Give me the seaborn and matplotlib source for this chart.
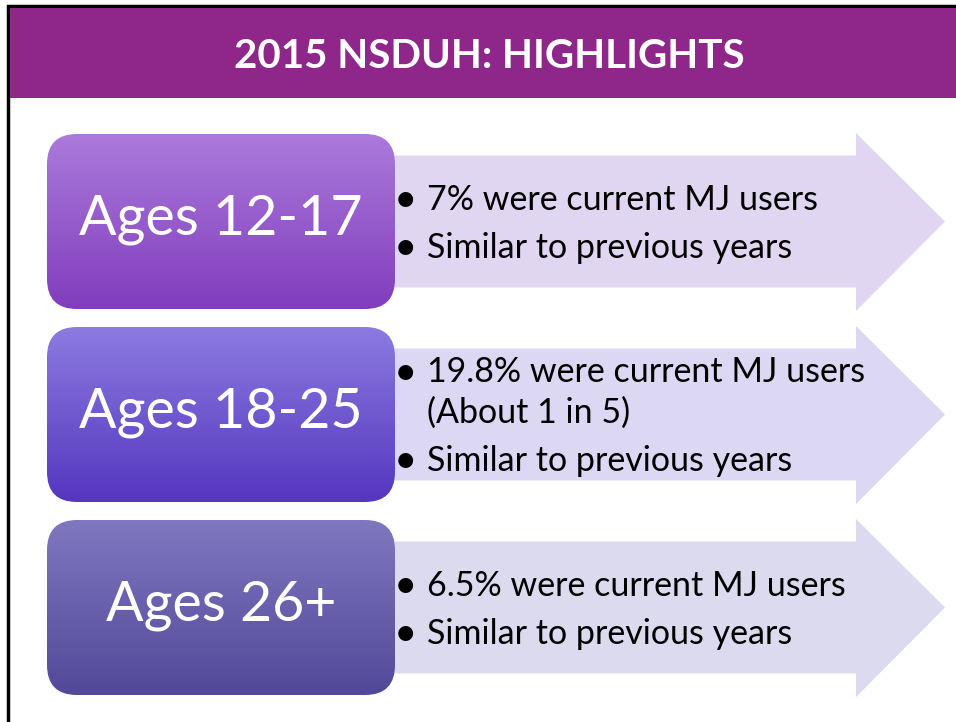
import numpy as np
import matplotlib.pyplot as plt
from matplotlib.patches import FancyBboxPatch, Polygon, Rectangle
from matplotlib.colors import LinearSegmentedColormap
import seaborn as sns

# content
title = "2015 NSDUH: HIGHLIGHTS"
age_groups = ["Ages 12-17", "Ages 18-25", "Ages 26+"]
bullets = [
    [["7% were current MJ users"], ["Similar to previous years"]],
    [["19.8% were current MJ users", "(About 1 in 5)"], ["Similar to previous years"]],
    [["6.5% were current MJ users"], ["Similar to previous years"]],
]
box_top_colors = ["#AB7ADB", "#8D7BE0", "#7F78C0"]
box_bottom_colors = ["#813DBD", "#5436BF", "#524899"]
arrow_colors = ["#E1D6F1", "#DCD8F3", "#DBDAEE"]

sns.set_theme(style="white")
plt.rcParams['font.family'] = ['Lato', 'DejaVu Sans']

fig = plt.figure(figsize=(9.56, 7.22), dpi=100)
ax = fig.add_axes([0, 0, 1, 1])
ax.set_xlim(0, 956)
ax.set_ylim(722, 0)
ax.axis('off')

# frame + title bar
ax.add_patch(Rectangle((8, 6), 960, 800, facecolor='white', edgecolor='black', lw=2.5, zorder=0))
ax.add_patch(Rectangle((10, 8), 960, 90, facecolor='#8F278B', edgecolor='none', zorder=1))
ax.text(489, 57, title, color='white', fontsize=29, fontweight='bold',
        ha='center', va='center', zorder=2)

box_tops = [134, 327, 520]
box_h = 175
line_gap = 41
para_gap = 48
for i, label in enumerate(age_groups):
    top = box_tops[i]
    cy = top + box_h / 2
    # arrow behind the box
    body_t, body_b = cy - 66, cy + 66
    head_t, head_b = top - 1, top + box_h + 2
    arrow = Polygon([(380, body_t), (856, body_t), (856, head_t), (945, cy),
                     (856, head_b), (856, body_b), (380, body_b)],
                    closed=True, facecolor=arrow_colors[i], edgecolor='none', zorder=1)
    ax.add_patch(arrow)

    # rounded box with vertical gradient
    box = FancyBboxPatch((47, top), 348, box_h, boxstyle="round,pad=0,rounding_size=30",
                         facecolor='none', edgecolor='none', zorder=3)
    ax.add_patch(box)
    cmap = LinearSegmentedColormap.from_list(f"g{i}", [box_top_colors[i], box_bottom_colors[i]])
    grad = np.linspace(0, 1, 256).reshape(-1, 1)
    im = ax.imshow(grad, cmap=cmap, extent=(47, 395, top + box_h, top), aspect='auto',
                   origin='upper', zorder=3)
    im.set_clip_path(box)
    ax.text(221, cy - 2, label, color='white', fontsize=40, ha='center', va='center', zorder=4)

    # bullet lines, vertically centred on the arrow
    groups = bullets[i]
    n_lines = sum(len(g) for g in groups)
    total = (n_lines - len(groups)) * line_gap + (len(groups) - 1) * para_gap
    y = cy - total / 2 + 2
    for g in groups:
        ax.text(405, y + 1, "\u2022", fontsize=29, ha='center', va='center', color='black', zorder=4)
        for k, txt in enumerate(g):
            ax.text(427, y, txt, fontsize=24.5, ha='left', va='center', color='black', zorder=4)
            if k < len(g) - 1:
                y += line_gap
        y += para_gap

fig.savefig('out.png', dpi=100)
